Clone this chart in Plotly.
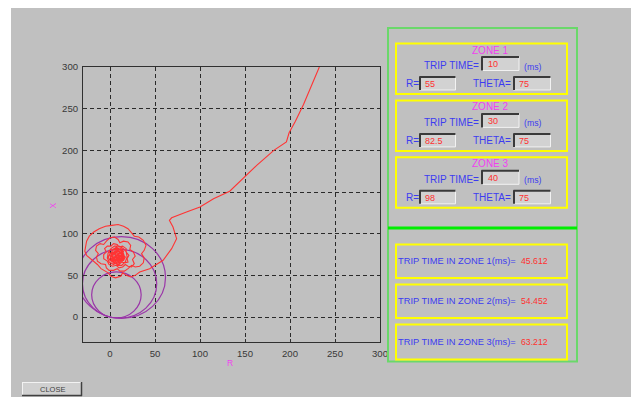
import math
import plotly.graph_objects as go

# ---------------- data ----------------
ZONE_NAMES = ["ZONE 1", "ZONE 2", "ZONE 3"]
TRIP_TIME_SETTINGS = ["10", "30", "40"]
ZONE_REACH_R = [55, 82.5, 98]
ZONE_THETA = [75, 75, 75]
TRIP_TIME_RESULTS = ["45.612", "54.452", "63.212"]
AXIS_TICKS = [0, 50, 100, 150, 200, 250, 300]

# impedance trajectory (R, X)
APPROACH_R = [232.6, 224, 215, 206, 199, 196, 182, 163, 144, 133, 115, 100, 85, 68.5, 66, 70, 74, 68.5, 59, 44, 33]
APPROACH_X = [300, 277, 255, 235, 221, 210, 200, 182, 162, 151, 142, 132, 126, 119, 116, 108, 94, 82, 68, 58, 54]

RING1_R = [28, 23, 18, 14, 12, 6, 1, -2, -6, -10, -14, -18, -22, -26, -28, -27, -26, -23, -18, -12, -5, 2, 9, 15, 20, 24, 27, 32, 37, 40, 38, 35, 38, 37, 33, 28, 24]
RING1_X = [50, 48, 50, 53, 49, 47, 49, 53, 56, 58, 63, 67, 70, 74, 79, 85, 91, 97, 102, 106, 109, 110, 111, 109, 106, 101, 97, 96, 92, 86, 80, 76, 71, 65, 61, 60, 62]

RING2_R = [20, 16, 11, 8, 4, -1, -4, -5, -10, -14, -15, -13, -16, -15, -11, -7, -4, 0, 5, 9, 11, 15, 20, 23, 22, 26, 28, 25, 27, 24, 20, 17]
RING2_X = [58, 55, 55, 58, 56, 56, 59, 63, 64, 67, 72, 76, 80, 85, 88, 87, 91, 95, 96, 93, 89, 91, 90, 86, 81, 78, 73, 69, 64, 60, 61, 63]

RING3_R = [14, 10, 7, 3, -1, -3, -7, -7, -4, -6, -3, 1, 4, 8, 10, 14, 18, 18, 21, 19, 20, 16, 13]
RING3_X = [60, 59, 62, 61, 63, 67, 70, 75, 78, 82, 85, 85, 88, 87, 84, 85, 82, 78, 74, 70, 66, 65, 66]

RING4_R = [10, 6, 3, 0, -2, 0, -1, 3, 6, 9, 12, 15, 14, 17, 15, 12, 9,
           4, -1, -3, -2, 1, 5, 10, 15, 18, 19, 17, 13, 8]
RING4_X = [63, 64, 66, 68, 72, 76, 80, 81, 83, 81, 82, 79, 75, 72, 68, 68, 67,
           63, 66, 71, 77, 82, 85, 85, 82, 78, 72, 66, 62, 62]

CORE_R = [6, 3, 2, 4, 7, 10, 13, 14, 12, 9, 6, 4, 1, 3, 6, 8, 11, 14, 11, 12, 8, 5, 6, 4, 8, 10, 12, 10, 7, 6, 8, 10, 10, 8, 7, 9, 9, 3, 5, 12, 15, 9, 5, 7, 11,
          16, 14, 9, 3, 0, 1, 6, 12, 16, 13, 8, 2, 1, 5, 11, 15, 12, 6, 2, 4, 10, 14, 10, 4, 3, 8, 13, 12, 7, 5, 9, 11]
CORE_X = [67, 70, 74, 78, 79, 78, 76, 72, 69, 70, 68, 72, 73, 77, 76, 80, 77, 74, 72, 68, 69, 70, 74, 76, 77, 75, 73, 70, 71, 73, 75, 74, 71, 72, 73, 74, 72, 66, 64, 65, 69, 82, 80, 84, 81,
          73, 79, 82, 80, 75, 69, 64, 65, 70, 77, 80, 77, 71, 66, 66, 71, 78, 79, 74, 68, 67, 73, 79, 77, 71, 68, 70, 76, 77, 72, 70, 74]

TRAJ_R = APPROACH_R + RING1_R + RING2_R + RING3_R + RING4_R + CORE_R
TRAJ_X = APPROACH_X + RING1_X + RING2_X + RING3_X + RING4_X + CORE_X

# ---------------- geometry ----------------
# the page body has an 8px margin, so the figure starts at page (8, 8)
OFF = 8
W, H = 631, 389
ML, MR, MT, MB = 75, 259, 59, 55
PW, PH = W - ML - MR, H - MT - MB


def fx(px):  # page pixel -> paper x
    return (px - OFF - ML) / PW


def fy(py):  # page pixel -> paper y
    return (H - MB - (py - OFF)) / PH


BG = "#c0c0c0"
BLUE = "#3c3cf0"
RED = "#ff3030"
MAG = "#f040f0"
FONT = "Liberation Sans, Arial, sans-serif"

fig = go.Figure()
fig.add_trace(go.Scatter(x=TRAJ_R, y=TRAJ_X, mode="lines",
                         line=dict(color="#ff3333", width=1.1),
                         hoverinfo="skip", showlegend=False))

shapes = []
annotations = []

# mho circles of the three zones
for reach, theta in zip(ZONE_REACH_R, ZONE_THETA):
    r = reach / 2.0
    cx = r * math.cos(math.radians(theta))
    cy = r * math.sin(math.radians(theta))
    shapes.append(dict(type="circle", xref="x", yref="y",
                       x0=cx - r, x1=cx + r, y0=cy - r, y1=cy + r,
                       line=dict(color="#9a35a8", width=1.2), layer="between"))


def prect(x0, y0, x1, y1, line=None, fill=None, width=1, layer="above"):
    d = dict(type="rect", xref="paper", yref="paper",
             x0=fx(x0), x1=fx(x1), y0=fy(y1), y1=fy(y0), layer=layer)
    if line:
        d["line"] = dict(color=line, width=width)
    else:
        d["line"] = dict(width=0)
    if fill:
        d["fillcolor"] = fill
    shapes.append(d)


def pline(x0, y0, x1, y1, color, width=1):
    shapes.append(dict(type="line", xref="paper", yref="paper",
                       x0=fx(x0), x1=fx(x1), y0=fy(y0), y1=fy(y1),
                       line=dict(color=color, width=width)))


def text(px, py, s, color, size=9.5, anchor="left", angle=0):
    annotations.append(dict(xref="paper", yref="paper", x=fx(px), y=fy(py),
                            text=s, showarrow=False, xanchor=anchor,
                            yanchor="middle", textangle=angle, borderpad=0,
                            font=dict(family=FONT, size=size, color=color)))


def inbox(x0, y0, x1, y1):
    prect(x0, y0, x1, y1, fill="#d2d2d2")
    pline(x0, y1, x1, y1, "#f2f2f2", 1)
    pline(x1, y0, x1, y1, "#f2f2f2", 1)
    pline(x0, y0 + 0.5, x1, y0 + 0.5, "#3a3a3a", 2)
    pline(x0 + 0.5, y0, x0 + 0.5, y1, "#3a3a3a", 2)


# white strip at the left of the grey window (page x 8..11)
prect(8, 8, 11, 397, fill="white", layer="below")

# right panel frames
prect(388, 28, 577, 361.5, line="#6ad86a", width=2)
pline(388, 228, 577, 228, "#00ee00", 3)

for i, name in enumerate(ZONE_NAMES):
    dy = 56.9 * i
    prect(396, 43.5 + dy, 567, 94 + dy, line="#ffff00", width=2)
    text(490, 50 + dy, name, MAG, 10, "center")
    text(480, 65.5 + dy, "TRIP TIME=", BLUE, 10, "right")
    inbox(481.5, 56.5 + dy, 519, 70.5 + dy)
    text(486.5, 64 + dy, TRIP_TIME_SETTINGS[i], RED, 9)
    text(523, 66.5 + dy, "(ms)", BLUE, 8.7)
    text(405, 84 + dy, "R=", BLUE, 10)
    inbox(419.5, 76.5 + dy, 455.5, 90 + dy)
    text(424, 84 + dy, f"{ZONE_REACH_R[i]:g}", RED, 9)
    text(472, 84 + dy, "THETA=", BLUE, 10)
    inbox(513.5, 76.5 + dy, 550.5, 90 + dy)
    text(518, 84 + dy, f"{ZONE_THETA[i]:g}", RED, 9)

for i, val in enumerate(TRIP_TIME_RESULTS):
    dy = 40 * i
    prect(396, 244.5 + dy, 567, 278 + dy if i < 2 else 359.5, line="#ffff00", width=2)
    text(396.5, 261 + dy + (1 if i == 2 else 0), f"TRIP TIME IN ZONE {i + 1}(ms)=", BLUE, 9.3)
    text(520, 261 + dy + (1 if i == 2 else 0), val, RED, 8.7)

# close button
prect(22, 382, 82, 396, fill="#d0d0d0")
pline(22, 382.5, 82, 382.5, "#f2f2f2", 1)
pline(22.5, 382, 22.5, 396, "#f2f2f2", 1)
pline(22, 395.5, 82, 395.5, "#404040", 1.5)
pline(81.5, 382, 81.5, 396, "#404040", 1.5)
text(52, 389.5, "CLOSE", "#404040", 7.5, "center")

# axis labels
text(229.5, 362.5, "R", MAG, 8.5, "center")
text(52, 205.5, "X", MAG, 8.5, "center", angle=-90)

axis_common = dict(range=[-30, 300], tickvals=AXIS_TICKS,
                   ticktext=[str(t) for t in AXIS_TICKS],
                   showgrid=True, gridcolor="#2a2a2a", gridwidth=1,
                   griddash="4px,3px", zeroline=False,
                   showline=True, mirror=True, linecolor="#303030", linewidth=1,
                   ticks="inside", ticklen=3, tickcolor="#303030",
                   tickfont=dict(family=FONT, size=9.6, color="#383838"),
                   fixedrange=True)

fig.update_layout(
    width=W, height=H,
    margin=dict(l=ML, r=MR, t=MT, b=MB, pad=0),
    paper_bgcolor=BG, plot_bgcolor=BG,
    xaxis=dict(**axis_common, ticklabelstandoff=2),
    yaxis=dict(**axis_common, ticklabelstandoff=2),
    shapes=shapes, annotations=annotations,
    showlegend=False,
)

fig.write_html("out.html", config={"displayModeBar": False})
